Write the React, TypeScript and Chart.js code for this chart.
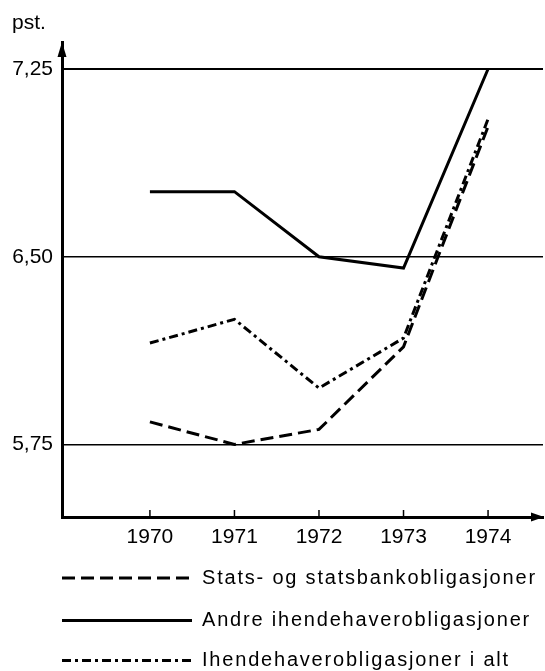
import React, { useEffect, useRef } from "react";
import { Chart, registerables } from "chart.js";

Chart.register(...registerables);

const years = [1970, 1971, 1972, 1973, 1974];
const statsValues = [5.84, 5.75, 5.81, 6.14, 7.02];
const andreValues = [6.76, 6.76, 6.5, 6.455, 7.25];
const altValues = [6.155, 6.25, 5.975, 6.175, 7.05];
const yTicks = [5.75, 6.5, 7.25];
const seriesNames = [
  "Stats- og statsbankobligasjoner",
  "Andre ihendehaverobligasjoner",
  "Ihendehaverobligasjoner i alt",
];
const yUnit = "pst.";

const FONT = '"Liberation Sans", Arial, Helvetica, sans-serif';

const decorPlugin = {
  id: "decor",
  afterDraw(chart: any) {
    const { ctx, chartArea } = chart;
    const xs = chart.scales.x;
    ctx.save();
    ctx.fillStyle = "#000";
    ctx.strokeStyle = "#000";
    // y arrow
    ctx.beginPath();
    ctx.moveTo(chartArea.left, chartArea.top);
    ctx.lineTo(chartArea.left - 4.5, chartArea.top + 15);
    ctx.lineTo(chartArea.left + 4.5, chartArea.top + 15);
    ctx.closePath();
    ctx.fill();
    // x arrow
    ctx.beginPath();
    ctx.moveTo(chartArea.right + 1, chartArea.bottom);
    ctx.lineTo(chartArea.right - 12, chartArea.bottom - 4.5);
    ctx.lineTo(chartArea.right - 12, chartArea.bottom + 4.5);
    ctx.closePath();
    ctx.fill();
    // inward x ticks
    ctx.lineWidth = 1.5;
    xs.ticks.forEach((t: any) => {
      const px = xs.getPixelForValue(t.value);
      ctx.beginPath();
      ctx.moveTo(px, chartArea.bottom);
      ctx.lineTo(px, chartArea.bottom - 7);
      ctx.stroke();
    });
    // unit label
    ctx.font = `21px ${FONT}`;
    ctx.textAlign = "left";
    ctx.textBaseline = "alphabetic";
    ctx.fillText(yUnit, 12, 29);
    // legend
    const rows = [578, 620.5, 660.5];
    chart.data.datasets.forEach((ds: any, i: number) => {
      const y = rows[i];
      ctx.save();
      ctx.lineWidth = ds.borderWidth;
      ctx.setLineDash(ds.borderDash || []);
      ctx.beginPath();
      ctx.moveTo(62, y);
      ctx.lineTo(192, y);
      ctx.stroke();
      ctx.restore();
      ctx.save();
      (ctx as any).letterSpacing = "1.8px";
      ctx.font = `20px ${FONT}`;
      ctx.textAlign = "left";
      ctx.textBaseline = "middle";
      ctx.fillText(ds.label, 202, y);
      ctx.restore();
    });
    ctx.restore();
  },
};

export default function App() {
  const ref = useRef<HTMLCanvasElement>(null);
  useEffect(() => {
    if (!ref.current) return;
    const mk = (vals: number[]) => years.map((x, i) => ({ x, y: vals[i] }));
    const chart = new Chart(ref.current, {
      type: "line",
      data: {
        datasets: [
          {
            label: seriesNames[0],
            data: mk(statsValues),
            borderColor: "#000",
            borderWidth: 3,
            borderDash: [13, 6],
            pointRadius: 0,
            tension: 0,
          },
          {
            label: seriesNames[1],
            data: mk(andreValues),
            borderColor: "#000",
            borderWidth: 3,
            borderDash: [],
            pointRadius: 0,
            tension: 0,
          },
          {
            label: seriesNames[2],
            data: mk(altValues),
            borderColor: "#000",
            borderWidth: 3,
            borderDash: [9, 4, 3, 4],
            pointRadius: 0,
            tension: 0,
          },
        ],
      },
      options: {
        responsive: false,
        animation: false,
        layout: { padding: { left: 0, top: 42, right: 2, bottom: 0 } },
        plugins: { legend: { display: false }, tooltip: { enabled: false } },
        scales: {
          x: {
            type: "linear",
            min: 1968.96,
            max: 1974.65,
            afterBuildTicks: (s: any) => {
              s.ticks = years.map((v) => ({ value: v }));
            },
            afterFit: (s: any) => {
              s.height = 154;
            },
            ticks: {
              color: "#000",
              font: { family: FONT, size: 21 },
              padding: 8,
              callback: (v: any) => String(v),
            },
            grid: { display: false, drawTicks: false },
            border: { display: true, color: "#000", width: 3 },
          },
          y: {
            min: 5.46,
            max: 7.358,
            afterBuildTicks: (s: any) => {
              s.ticks = yTicks.map((v) => ({ value: v }));
            },
            afterFit: (s: any) => {
              s.width = 62;
            },
            ticks: {
              color: "#000",
              font: { family: FONT, size: 21 },
              padding: 9,
              callback: (v: any) => Number(v).toFixed(2).replace(".", ","),
            },
            grid: {
              drawTicks: false,
              color: "#000",
              lineWidth: (c: any) => (c.tick && c.tick.value === 7.25 ? 2 : 1.5),
            },
            border: { display: true, color: "#000", width: 3 },
          },
        },
      },
      plugins: [decorPlugin],
    });
    return () => chart.destroy();
  }, []);
  return (
    <div style={{ position: "absolute", left: 0, top: 0, width: 545, height: 671, background: "#fff" }}>
      <canvas ref={ref} width={545} height={671} style={{ display: "block" }} />
    </div>
  );
}
